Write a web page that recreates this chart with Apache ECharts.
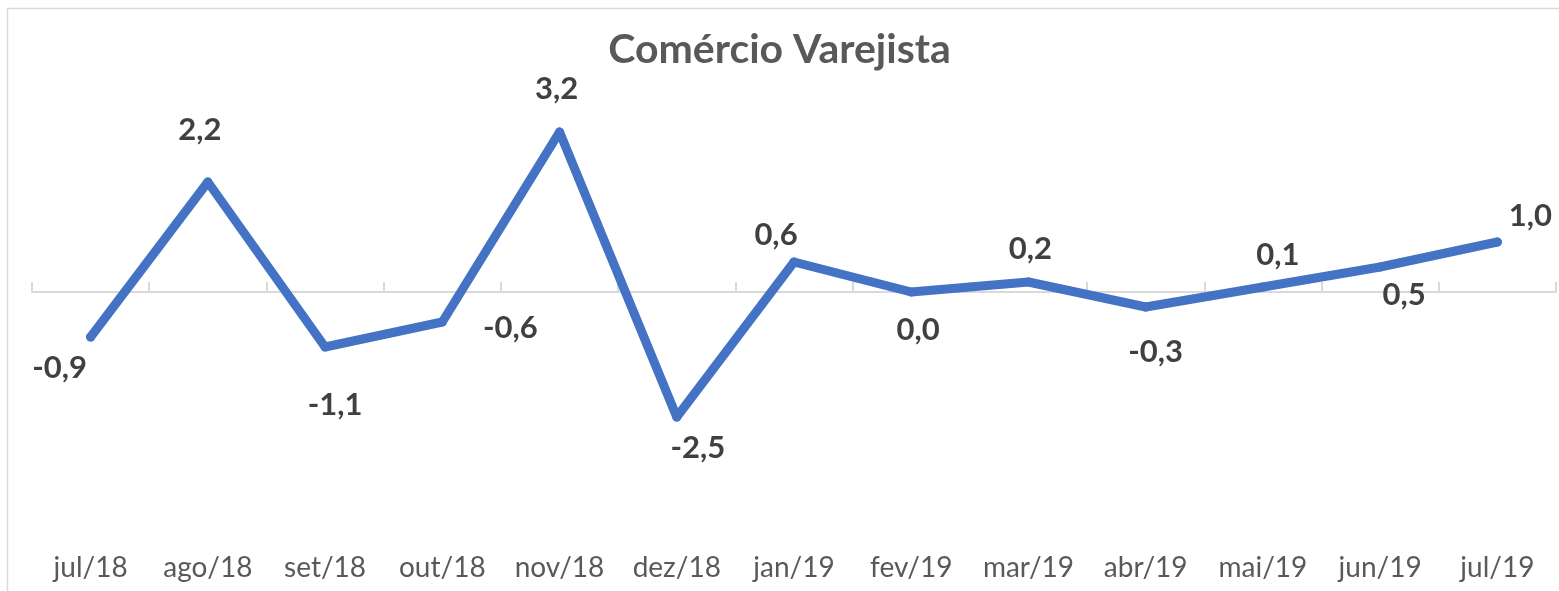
<!DOCTYPE html>
<html>
<head>
<meta charset="utf-8">
<script src="https://cdn.jsdelivr.net/npm/echarts@6/dist/echarts.min.js"></script>
<style>
  html, body { margin: 0; padding: 0; background: #fff; }
  #chart { width: 1559px; height: 591px; }
</style>
</head>
<body>
<div id="chart"></div>
<script>
  // categorias (meses) e variação mensal
  const meses = ['jul/18', 'ago/18', 'set/18', 'out/18', 'nov/18', 'dez/18', 'jan/19',
    'fev/19', 'mar/19', 'abr/19', 'mai/19', 'jun/19', 'jul/19'];
  const variacao = [-0.9, 2.2, -1.1, -0.6, 3.2, -2.5, 0.6, 0.0, 0.2, -0.3, 0.1, 0.5, 1.0];
  // deslocamento dos rótulos, como no gráfico original
  const rotuloOffset = [[-31, 31], [-8, -52], [10, 58], [68, 6], [-3, -43], [21, 31], [-18, -27],
    [7, 38], [2, -33], [10, 45], [15, -32], [24, 28], [33, -26]];

  const chart = echarts.init(document.getElementById('chart'));
  chart.setOption({
    backgroundColor: '#fff',
    animation: false,
    title: {
      text: 'Comércio Varejista',
      left: 'center',
      top: 24,
      textStyle: { fontFamily: 'Lato', fontSize: 41, fontWeight: 'bold', color: '#595959' }
    },
    graphic: [{
      type: 'rect',
      shape: { x: 7.5, y: 8.5, width: 1600, height: 700 },
      style: { fill: 'none', stroke: '#d9d9d9', lineWidth: 1.5 },
      silent: true
    }],
    grid: { left: 32, right: 3, top: 92, bottom: 49 },
    xAxis: [{
      type: 'category',
      data: meses,
      position: 'bottom',
      axisLine: { show: false, onZero: false },
      axisTick: { show: false },
      axisLabel: { interval: 0, hideOverlap: false, fontFamily: 'Lato', fontSize: 28, color: '#595959', margin: 12 }
    }, {
      type: 'category',
      data: meses,
      position: 'top',
      axisLine: { onZero: true, lineStyle: { color: '#d9d9d9', width: 2 } },
      axisTick: { show: true, inside: false, length: 10, lineStyle: { color: '#d9d9d9', width: 2 } },
      axisLabel: { show: false }
    }],
    yAxis: {
      type: 'value',
      min: -5,
      max: 4,
      show: false,
      splitLine: { show: false }
    },
    series: [{
      type: 'line',
      xAxisIndex: 0,
      data: variacao.map((v, i) => ({
        value: v,
        label: { offset: rotuloOffset[i] }
      })),
      symbol: 'circle',
      symbolSize: 9,
      itemStyle: { color: '#4472c4' },
      lineStyle: { color: '#4472c4', width: 9, cap: 'round', join: 'round' },
      label: {
        show: true,
        position: 'inside',
        fontFamily: 'Lato',
        fontSize: 31,
        fontWeight: 'bold',
        color: '#404040',
        formatter: p => p.value.toFixed(1).replace('.', ',')
      }
    }]
  });
</script>
</body>
</html>
